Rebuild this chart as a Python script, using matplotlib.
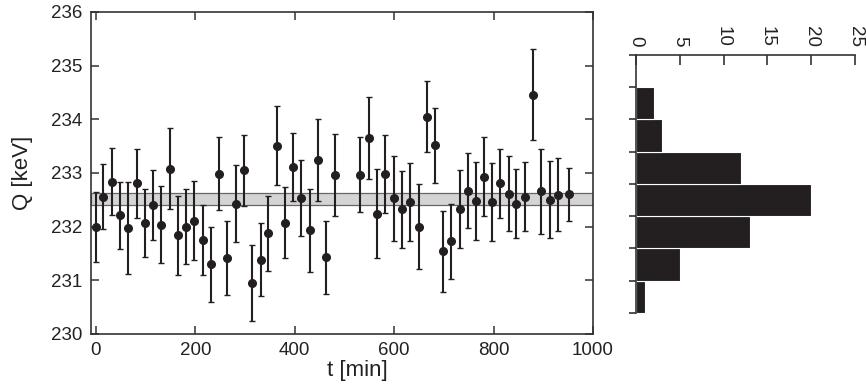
import numpy as np
import matplotlib
matplotlib.use("Agg")
import matplotlib.pyplot as plt

plt.rcParams['font.family'] = ['Liberation Sans', 'DejaVu Sans']

# measurement times (min)
t = [0, 15, 32, 48, 65, 82, 98, 115, 131, 148, 165, 181, 198, 215, 231, 248,
     264, 281, 297, 314, 331, 347, 364, 381, 396, 413, 430, 446, 463, 480,
     532, 549, 566, 582, 599, 615, 632, 649, 665, 682, 699, 715, 732, 748,
     765, 781, 796, 813, 830, 846, 863, 880, 896, 913, 930, 951]

# Q values (keV)
q = [232.00, 232.56, 232.84, 232.21, 231.97, 232.81, 232.07, 232.40, 232.04,
     233.08, 231.84, 232.00, 232.11, 231.75, 231.30, 232.99, 231.41, 232.43,
     233.05, 230.95, 231.38, 231.88, 233.51, 232.07, 233.11, 232.53, 231.93,
     233.24, 231.43, 232.96, 232.97, 233.65, 232.24, 232.98, 232.53, 232.32,
     232.46, 232.00, 234.05, 233.52, 231.54, 231.73, 232.33, 232.67, 232.48,
     232.93, 232.46, 232.81, 232.61, 232.43, 232.56, 234.46, 232.66, 232.50,
     232.59, 232.60]

# uncertainties (keV)
err = [0.65, 0.60, 0.62, 0.63, 0.86, 0.64, 0.64, 0.65, 0.72, 0.75, 0.74, 0.70,
       0.74, 0.65, 0.70, 0.68, 0.69, 0.71, 0.66, 0.70, 0.68, 0.70, 0.73, 0.66,
       0.64, 0.71, 0.77, 0.76, 0.68, 0.76, 0.70, 0.76, 0.83, 0.72, 0.79, 0.72,
       0.72, 0.79, 0.66, 0.70, 0.75, 0.70, 0.73, 0.70, 0.73, 0.74, 0.72, 0.64,
       0.70, 0.65, 0.65, 0.85, 0.79, 0.72, 0.68, 0.50]

# mean band
band_lo, band_hi = 232.40, 232.62

# histogram bins
bins = [230.4, 231.0, 231.6, 232.2, 232.8, 233.4, 234.0, 234.6, 235.2]

dark = '#231f20'

fig = plt.figure(figsize=(8.66, 3.88), dpi=100)

ax = fig.add_axes([0.1051, 0.1392, 0.5797, 0.8299])
ax.axhspan(band_lo, band_hi, facecolor='#d4d4d4', edgecolor='#666666',
           linewidth=0.9, zorder=1)
ax.errorbar(t, q, yerr=err, fmt='o', color=dark, ms=5.5, capsize=2,
            elinewidth=1.5, capthick=1.0, zorder=3)
ax.set_xlim(-10, 1000)
ax.set_ylim(230, 236)
ax.set_xticks(range(0, 1001, 200))
ax.set_yticks(range(230, 237))
ax.tick_params(direction='in', top=True, right=True, length=5.5, pad=6,
               width=1.1, labelsize=13.5, color='#333333', labelcolor='#222222')
for s in ax.spines.values():
    s.set_color('#333333')
    s.set_linewidth(1.2)
ax.set_xlabel('t [min]', fontsize=16, color='#222222')
ax.xaxis.set_label_coords(0.53, -0.08)
ax.set_ylabel('Q [keV]', fontsize=16, labelpad=13, color='#222222')

ax2 = fig.add_axes([0.7344, 0.1933, 0.2529, 0.665])
ax2.hist(q, bins=bins, orientation='horizontal', color=dark,
         edgecolor='white', linewidth=0.8)
ax2.set_xlim(0, 25)
ax2.set_ylim(bins[0], bins[-1])
ax2.set_xticks(range(0, 26, 5))
ax2.set_yticks(bins)
ax2.yaxis.set_ticklabels([])
ax2.xaxis.tick_top()
ax2.tick_params(axis='x', direction='in', length=7, width=1.2, pad=6,
                labelsize=13.5, labelrotation=-90, color='#333333',
                labelcolor='#222222')
ax2.tick_params(axis='y', direction='out', length=5, width=1.2,
                color='#333333')
ax2.spines['right'].set_visible(False)
ax2.spines['bottom'].set_visible(False)
for s in ('top', 'left'):
    ax2.spines[s].set_color('#333333')
    ax2.spines[s].set_linewidth(1.2)

fig.savefig('out.png', dpi=100)
